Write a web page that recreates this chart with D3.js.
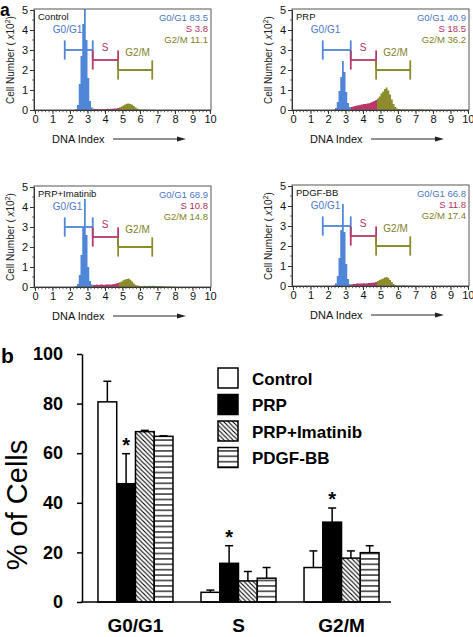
<!DOCTYPE html>
<html><head><meta charset="utf-8">
<script src="https://cdn.jsdelivr.net/npm/d3@7/dist/d3.min.js"></script>
<style>
body{margin:0;background:#fff}
svg{display:block}
text{font-family:"Liberation Sans",Arial,Helvetica,sans-serif}
</style>
</head><body>
<svg id="c" width="473" height="637"></svg>
<script>
// ---------------- DATA ----------------
// Panel a: flow cytometry histograms
const panelNames = ["Control", "PRP", "PRP+Imatinib", "PDGF-BB"];
const g0g1Pct = [83.5, 40.9, 68.9, 66.8];
const sPct = [3.8, 18.5, 10.8, 11.8];
const g2mPct = [11.1, 36.2, 14.8, 17.4];
const dnaTicks = [0, 1, 2, 3, 4, 5, 6, 7, 8, 9, 10];
const cellTicks = [0, 1, 2, 3, 4, 5];
const gateNames = ["G0/G1", "S", "G2/M"];
const gateStart = [1.7, 3.3, 4.75];
const gateEnd = [3.3, 4.75, 6.7];
const gateLevel = [3.0, 2.5, 2.0];
const binStart = 2.3, binWidth = 0.1;
// cell counts (x10^2) per DNA-index bin starting at 2.3, width 0.1
const histControl = [0.05,0.25,1.3,2.7,4.3,5.6,3.5,1.6,0.45,0.12,
  0.06,0.05,0.05,0.04,0.05,0.04,0.05,0.05,0.06,0.05,
  0.06,0.06,0.07,0.08,0.1,0.14,0.18,0.22,0.27,0.31,
  0.33,0.3,0.26,0.2,0.12,0.07,0.04,0.03,0.02,0.02,
  0.02,0.01,0.01,0.01,0.01,0,0,0,0,0,
  0,0,0,0,0,0,0,0,0,0];
const histPRP = [0.02,0.1,0.4,0.95,1.65,2.45,1.9,0.9,0.35,0.15,
  0.15,0.17,0.2,0.22,0.24,0.26,0.27,0.3,0.3,0.32,
  0.34,0.37,0.41,0.45,0.5,0.58,0.68,0.82,0.93,1.05,
  1.12,0.98,0.77,0.52,0.3,0.15,0.08,0.05,0.04,0.03,
  0.03,0.03,0.02,0.03,0.02,0.02,0.03,0.02,0.02,0.02,
  0.02,0.02,0.01,0.02,0.01,0.01,0.01,0,0,0];
const histImatinib = [0.05,0.15,0.6,1.6,3.0,4.4,2.6,1.0,0.3,0.12,
  0.1,0.1,0.12,0.1,0.12,0.12,0.1,0.12,0.13,0.12,
  0.13,0.14,0.15,0.18,0.2,0.24,0.28,0.34,0.38,0.4,
  0.42,0.36,0.28,0.18,0.1,0.07,0.06,0.05,0.05,0.06,
  0.05,0.05,0.06,0.05,0.06,0.05,0.05,0.04,0.05,0.04,
  0.04,0.03,0.03,0.02,0.02,0.01,0.01,0,0,0];
const histPDGF = [0.04,0.12,0.5,1.4,2.8,4.1,2.7,1.1,0.35,0.1,
  0.08,0.1,0.1,0.12,0.12,0.13,0.12,0.14,0.13,0.14,
  0.15,0.15,0.16,0.18,0.2,0.25,0.3,0.34,0.38,0.42,
  0.45,0.4,0.3,0.2,0.1,0.05,0.03,0.02,0.02,0.02,
  0.02,0.01,0.01,0.01,0.01,0.01,0.01,0,0,0,
  0,0,0,0,0,0,0,0,0,0];
const histograms = [histControl, histPRP, histImatinib, histPDGF];

// Panel b: bar chart
const phases = ["G0/G1", "S", "G2/M"];
const treatments = ["Control", "PRP", "PRP+Imatinib", "PDGF-BB"];
const meanControl = [80.7, 3.9, 13.9];
const meanPRP = [47.7, 15.6, 32.2];
const meanImatinib = [68.7, 8.5, 17.7];
const meanPDGF = [66.8, 9.6, 19.9];
const errControl = [8.3, 0.9, 6.7];
const errPRP = [12.1, 7.1, 5.7];
const errImatinib = [0.5, 3.8, 2.9];
const errPDGF = [0.2, 4.3, 2.8];
const sigPRP = [true, true, true];
const pctTicks = [0, 20, 40, 60, 80, 100];

// ---------------- DRAW ----------------
const svg = d3.select("#c");
const gateColors = ["#4f86d8", "#b8386a", "#8c8c2c"];
const textColors = ["#4a78c8", "#b03060", "#7f7f26"];
const tailColor = "#5f8f3a";

svg.append("text").attr("x", 0).attr("y", 16).attr("font-size", 17.5).attr("font-weight", "bold").text("a");
svg.append("text").attr("x", 1).attr("y", 363).attr("font-size", 21).attr("font-weight", "bold").text("b");

const panelOrigins = [[35, 110], [293, 110], [35, 287], [293, 286]];

function segIndex(d0) {
  if (d0 < gateEnd[0] - 1e-6) return 0;
  if (d0 < gateEnd[1] - 1e-6) return 1;
  if (d0 < 6.2 - 1e-6) return 2;
  return 3;
}
const segColors = [gateColors[0], gateColors[1], gateColors[2], tailColor];

panelOrigins.forEach(([ox, oy], p) => {
  const x = d3.scaleLinear().domain([0, 10]).range([ox, ox + 175]);
  const y = d3.scaleLinear().domain([0, 5]).range([oy, oy - 100]);
  const top = oy - 101;
  const g = svg.append("g");

  const bins = histograms[p].map((v, i) => ({ d0: binStart + i * binWidth, v }));
  [0, 1, 2, 3].forEach(s => {
    const seg = bins.filter(b => segIndex(b.d0) === s);
    if (!seg.length) return;
    let path = `M${x(seg[0].d0)},${oy}`;
    seg.forEach(b => {
      const yy = Math.max(y(b.v), top);
      path += ` L${x(b.d0)},${yy} L${x(b.d0 + binWidth)},${yy}`;
    });
    path += ` L${x(seg[seg.length - 1].d0 + binWidth)},${oy} Z`;
    g.append("path").attr("d", path).attr("fill", segColors[s]);
  });

  gateNames.forEach((name, k) => {
    const c = gateColors[k];
    const h = gateLevel[k];
    const gg = g.append("g").attr("stroke", c).attr("stroke-width", 1.8).attr("fill", "none");
    gg.append("line").attr("x1", x(gateStart[k])).attr("x2", x(gateEnd[k])).attr("y1", y(h)).attr("y2", y(h));
    [gateStart[k], gateEnd[k]].forEach(e => {
      gg.append("line").attr("x1", x(e)).attr("x2", x(e)).attr("y1", y(h + 0.48)).attr("y2", y(h - 0.48));
    });
  });
  const labelPos = [[1.86, 4.05], [4.0, 3.12], [5.86, 2.87]];
  gateNames.forEach((name, k) => {
    g.append("text").attr("x", x(labelPos[k][0])).attr("y", y(labelPos[k][1]) + 3.5)
      .attr("text-anchor", "middle").attr("font-size", 10).attr("fill", textColors[k]).text(name);
  });

  g.append("rect").attr("x", ox - 1).attr("y", top).attr("width", 177).attr("height", oy - top)
    .attr("fill", "none").attr("stroke", "#555").attr("stroke-width", 1);

  const xa = g.append("g").attr("transform", `translate(0,${oy})`)
    .call(d3.axisBottom(x).tickValues(dnaTicks).tickSize(4).tickPadding(1).tickFormat(d3.format("d")));
  xa.select(".domain").attr("stroke", "#333");
  xa.selectAll(".tick line").attr("stroke", "#333");
  xa.selectAll("text").attr("font-size", 11).attr("fill", "#111").attr("font-family", "Liberation Sans, Arial, sans-serif");
  if (ox > 200) {
    xa.selectAll(".tick text").filter(d => d === 10).attr("text-anchor", "end").attr("x", 6);
  }
  d3.range(0, 10.001, 0.2).forEach(m => {
    g.append("line").attr("x1", x(m)).attr("x2", x(m)).attr("y1", oy).attr("y2", oy + 2.2).attr("stroke", "#444").attr("stroke-width", 0.8);
  });

  const ya = g.append("g").attr("transform", `translate(${ox - 1},0)`)
    .call(d3.axisLeft(y).tickValues(cellTicks).tickSize(4).tickPadding(2).tickFormat(d3.format("d")));
  ya.select(".domain").attr("stroke", "#333");
  ya.selectAll(".tick line").attr("stroke", "#333");
  ya.selectAll("text").attr("font-size", 11).attr("fill", "#111").attr("font-family", "Liberation Sans, Arial, sans-serif");
  d3.range(0.5, 5, 1).forEach(m => {
    g.append("line").attr("x1", ox - 1).attr("x2", ox - 3).attr("y1", y(m)).attr("y2", y(m)).attr("stroke", "#444").attr("stroke-width", 0.8);
  });

  const yt = g.append("text").attr("transform", `translate(${ox - 21},${oy - 50}) rotate(-90)`)
    .attr("text-anchor", "middle").attr("font-size", 10).attr("fill", "#222");
  yt.append("tspan").text("Cell Number ( ");
  yt.append("tspan").attr("font-style", "italic").text("x");
  yt.append("tspan").text("10");
  yt.append("tspan").attr("font-size", 7).attr("dy", -4).text("2");
  yt.append("tspan").attr("dy", 4).text(")");

  g.append("text").attr("x", ox + 17).attr("y", oy + 33).attr("font-size", 11).attr("fill", "#111").text("DNA Index");
  g.append("line").attr("x1", ox + 78).attr("x2", ox + 145).attr("y1", oy + 29).attr("y2", oy + 29).attr("stroke", "#222").attr("stroke-width", 1);
  g.append("path").attr("d", `M${ox + 151},${oy + 29} L${ox + 142},${oy + 26.6} L${ox + 142},${oy + 31.4} Z`).attr("fill", "#222");

  g.append("text").attr("x", ox + 3).attr("y", top + 11).attr("font-size", 9.5).attr("fill", "#111").text(panelNames[p]);
  const stats = [`G0/G1 ${g0g1Pct[p]}`, `S ${sPct[p]}`, `G2/M ${g2mPct[p]}`];
  stats.forEach((s, k) => {
    g.append("text").attr("x", ox + 173).attr("y", top + 12 + k * 11).attr("text-anchor", "end")
      .attr("font-size", 9.5).attr("fill", textColors[k]).text(s);
  });
});

// ---------------- Panel b ----------------
const defs = svg.append("defs");
const diag = defs.append("pattern").attr("id", "diag").attr("patternUnits", "userSpaceOnUse")
  .attr("width", 4.5).attr("height", 4.5);
diag.append("rect").attr("width", 4.5).attr("height", 4.5).attr("fill", "#fff");
diag.append("path").attr("d", "M-1,-1 L5.5,5.5 M-1,3.5 L1,5.5 M3.5,-1 L5.5,1").attr("stroke", "#000").attr("stroke-width", 1.1);
const horiz = defs.append("pattern").attr("id", "horiz").attr("patternUnits", "userSpaceOnUse")
  .attr("width", 6).attr("height", 5.4);
horiz.append("rect").attr("width", 6).attr("height", 5.4).attr("fill", "#fff");
horiz.append("line").attr("x1", 0).attr("x2", 6).attr("y1", 2.7).attr("y2", 2.7).attr("stroke", "#000").attr("stroke-width", 1.2);

const fills = ["#fff", "#000", "url(#diag)", "url(#horiz)"];
const means = [meanControl, meanPRP, meanImatinib, meanPDGF];
const errs = [errControl, errPRP, errImatinib, errPDGF];

const yB = d3.scaleLinear().domain([0, 100]).range([602, 354]);
const x0 = d3.scaleBand().domain(phases).range([82, 395]).paddingInner(0.272).paddingOuter(0.155);
const x1 = d3.scaleBand().domain(treatments).range([0, x0.bandwidth()]);

const gb = svg.append("g");
phases.forEach((ph, i) => {
  treatments.forEach((t, j) => {
    const bx = x0(ph) + x1(t);
    const bw = x1.bandwidth();
    const cx = bx + bw / 2;
    const v = means[j][i], e = errs[j][i];
    gb.append("line").attr("x1", cx).attr("x2", cx).attr("y1", yB(v)).attr("y2", yB(v + e)).attr("stroke", "#000").attr("stroke-width", 1.5);
    gb.append("line").attr("x1", cx - 4).attr("x2", cx + 4).attr("y1", yB(v + e)).attr("y2", yB(v + e)).attr("stroke", "#000").attr("stroke-width", 1.5);
    gb.append("rect").attr("x", bx).attr("width", bw).attr("y", yB(v)).attr("height", yB(0) - yB(v))
      .attr("fill", fills[j]).attr("stroke", "#000").attr("stroke-width", 1.5);
    if (j === 1 && sigPRP[i]) {
      gb.append("text").attr("x", cx).attr("y", yB(v + e) - 2).attr("text-anchor", "middle")
        .attr("font-size", 20).attr("font-weight", "bold").text("*");
    }
  });
});

const yAx = svg.append("g").attr("transform", "translate(82,0)")
  .call(d3.axisLeft(yB).tickValues(pctTicks).tickSize(5).tickPadding(14).tickSizeOuter(0));
yAx.select(".domain").attr("stroke", "#000").attr("stroke-width", 1.5);
yAx.selectAll(".tick line").attr("stroke", "#000").attr("stroke-width", 1.5);
yAx.selectAll("text").attr("font-size", 18).attr("font-weight", "bold").attr("fill", "#000")
  .attr("font-family", "Liberation Sans, Arial, sans-serif");
svg.append("line").attr("x1", 81.25).attr("x2", 391).attr("y1", yB(0)).attr("y2", yB(0)).attr("stroke", "#000").attr("stroke-width", 1.5);

phases.forEach(ph => {
  svg.append("text").attr("x", x0(ph) + x0.bandwidth() / 2).attr("y", 632).attr("text-anchor", "middle")
    .attr("font-size", 19).attr("font-weight", "bold").text(ph);
});

svg.append("text").attr("transform", "translate(27,505) rotate(-90)").attr("text-anchor", "middle")
  .attr("font-size", 29).text("% of Cells");

const legY = [368, 394.5, 421, 447.5];
treatments.forEach((t, j) => {
  svg.append("rect").attr("x", 218).attr("y", legY[j]).attr("width", 20).attr("height", 20)
    .attr("fill", fills[j]).attr("stroke", "#000").attr("stroke-width", 1.5);
  svg.append("text").attr("x", 252).attr("y", legY[j] + 16.5).attr("font-size", 17).attr("font-weight", "bold").text(t);
});
</script>
</body></html>
